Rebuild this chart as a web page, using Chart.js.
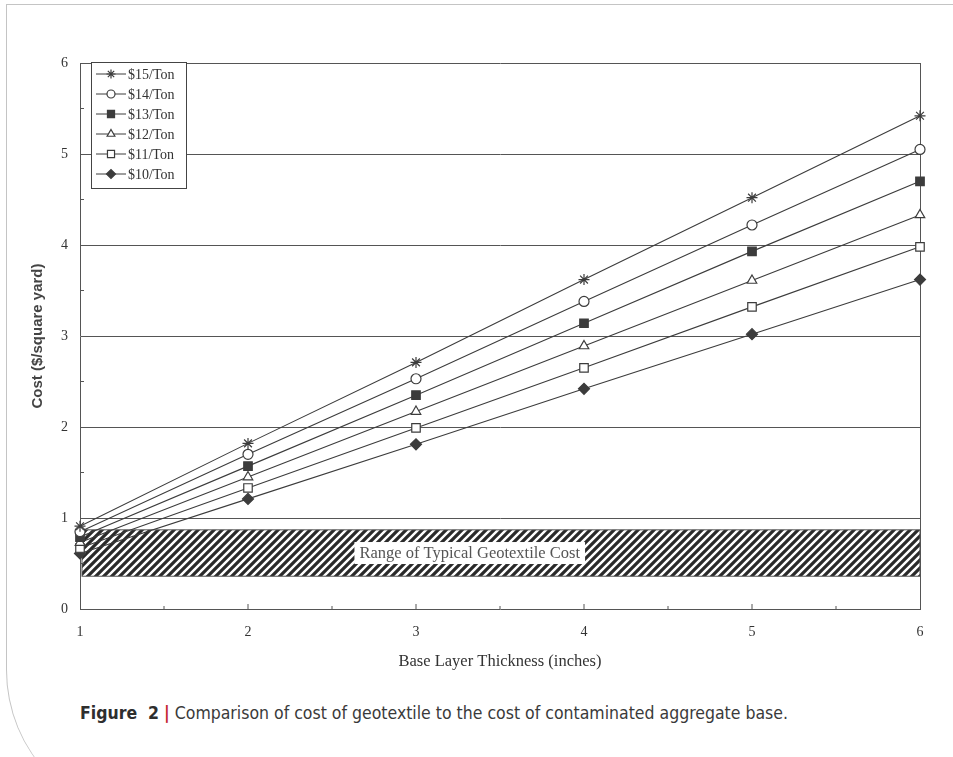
<!DOCTYPE html>
<html>
<head>
<meta charset="utf-8">
<script src="https://cdn.jsdelivr.net/npm/chart.js@4.4.1/dist/chart.umd.min.js"></script>
<style>
  html, body { margin: 0; padding: 0; background: #fff; width: 953px; height: 757px; overflow: hidden; }
  .frame { position: absolute; left: 6px; top: 4px; width: 980px; height: 815px;
           border-top: 1px solid #c4c4c4; border-left: 1px solid #c4c4c4;
           border-bottom-left-radius: 150px; }
  .wrap { position: absolute; left: 0; top: 0; width: 953px; height: 690px; }
  .caption { position: absolute; left: 80px; top: 703px; font-family: "Liberation Sans Narrow", "DejaVu Sans Condensed", sans-serif;
             font-size: 17.5px; color: #3a3a3a; white-space: nowrap; }
  .caption b { color: #2e2e2e; }
  .caption .bar { color: #c4262e; font-weight: bold; }
</style>
</head>
<body>
<div class="frame"></div>
<div class="wrap"><canvas id="costChart"></canvas></div>
<div class="caption"><b>Figure&nbsp; 2</b> <span class="bar">|</span> Comparison of cost of geotextile to the cost of contaminated aggregate base.</div>
<script>
const thickness = [1, 2, 3, 4, 5, 6];
const seriesLabels = ['$15/Ton', '$14/Ton', '$13/Ton', '$12/Ton', '$11/Ton', '$10/Ton'];
const cost15 = [0.91, 1.82, 2.71, 3.62, 4.52, 5.42];
const cost14 = [0.85, 1.70, 2.53, 3.38, 4.22, 5.05];
const cost13 = [0.79, 1.57, 2.35, 3.14, 3.93, 4.70];
const cost12 = [0.73, 1.45, 2.17, 2.89, 3.61, 4.33];
const cost11 = [0.67, 1.33, 1.99, 2.65, 3.32, 3.98];
const cost10 = [0.61, 1.21, 1.81, 2.42, 3.02, 3.62];
const geotextileRange = [0.36, 0.87];
const bandLabel = 'Range of Typical Geotextile Cost';

const ink = '#3c3c3c';
const markers = [
  { style: 'star', fill: ink, r: 5.5 },
  { style: 'circle', fill: '#fff', r: 5 },
  { style: 'rect', fill: ink, r: 6 },
  { style: 'triangle', fill: '#fff', r: 5.5 },
  { style: 'rect', fill: '#fff', r: 6 },
  { style: 'rectRot', fill: ink, r: 5.5 }
];
const allCosts = [cost15, cost14, cost13, cost12, cost11, cost10];

const datasets = allCosts.map((vals, i) => ({
  label: seriesLabels[i],
  data: vals.map((v, j) => ({ x: thickness[j], y: v })),
  borderColor: ink,
  borderWidth: 1.1,
  pointStyle: markers[i].style,
  pointRadius: markers[i].r,
  pointBackgroundColor: markers[i].fill,
  pointBorderColor: ink,
  pointBorderWidth: 1.2,
  clip: false,
  tension: 0
}));

function stripes() {
  const c = document.createElement('canvas');
  c.width = 8; c.height = 8;
  const g = c.getContext('2d');
  g.fillStyle = '#fff';
  g.fillRect(0, 0, 8, 8);
  g.strokeStyle = '#2a2a2a';
  g.lineWidth = 3.2;
  g.beginPath();
  g.moveTo(-2, 10); g.lineTo(10, -2);
  g.moveTo(-2, 2); g.lineTo(2, -2);
  g.moveTo(6, 10); g.lineTo(10, 6);
  g.stroke();
  return c;
}

const bandPlugin = {
  id: 'band',
  beforeDatasetsDraw(chart) {
    const { ctx, scales: { x, y } } = chart;
    const left = x.getPixelForValue(thickness[0]) + 2;
    const right = x.getPixelForValue(thickness[thickness.length - 1]);
    const top = y.getPixelForValue(geotextileRange[1]);
    const bottom = y.getPixelForValue(geotextileRange[0]);
    ctx.save();
    ctx.fillStyle = ctx.createPattern(stripes(), 'repeat');
    ctx.fillRect(left, top, right - left, bottom - top);
    ctx.strokeStyle = '#555';
    ctx.lineWidth = 1;
    ctx.strokeRect(left, top, right - left, bottom - top);
    ctx.font = '16.5px "Liberation Serif", serif';
    const w = ctx.measureText(bandLabel).width;
    const cx = x.getPixelForValue(3.32);
    const cy = (top + bottom) / 2;
    ctx.fillStyle = '#fff';
    ctx.fillRect(cx - w / 2 - 5, cy - 11, w + 10, 22);
    ctx.fillStyle = '#555';
    ctx.textAlign = 'center';
    ctx.textBaseline = 'middle';
    ctx.fillText(bandLabel, cx, cy + 1);
    ctx.restore();
  }
};

const minorTicks = {
  id: 'minorTicks',
  afterDraw(chart) {
    const { ctx, scales: { x, y } } = chart;
    ctx.save();
    ctx.strokeStyle = '#555';
    ctx.lineWidth = 1;
    ctx.beginPath();
    for (let v = 0.5; v < 6; v += 1) {
      const py = y.getPixelForValue(v);
      ctx.moveTo(x.left, py); ctx.lineTo(x.left + 4, py);
    }
    for (let v = 1.5; v < 6; v += 0.5) {
      const px = x.getPixelForValue(v);
      ctx.moveTo(px, y.bottom); ctx.lineTo(px, y.bottom - (v % 1 === 0 ? 5 : 3));
    }
    ctx.stroke();
    ctx.restore();
  }
};

const legendBox = {
  id: 'legendBox',
  afterDraw(chart) {
    const { ctx } = chart;
    const bx = 91, by = 62, bw = 95, bh = 126;
    ctx.save();
    ctx.fillStyle = '#fff';
    ctx.fillRect(bx, by, bw, bh);
    ctx.strokeStyle = '#444';
    ctx.lineWidth = 1;
    ctx.strokeRect(bx + 0.5, by + 0.5, bw, bh);
    ctx.font = '14px "Liberation Serif", serif';
    ctx.textBaseline = 'middle';
    chart.data.datasets.forEach((ds, i) => {
      const yy = by + 12 + i * 20;
      ctx.strokeStyle = ink;
      ctx.beginPath();
      ctx.moveTo(bx + 5, yy); ctx.lineTo(bx + 35, yy);
      ctx.stroke();
      ctx.fillStyle = ds.pointBackgroundColor;
      ctx.lineWidth = 1.2;
      Chart.helpers.drawPoint(ctx, { pointStyle: ds.pointStyle, radius: ds.pointRadius - 1, borderWidth: 1.2, rotation: 0 }, bx + 20, yy);
      ctx.lineWidth = 1;
      ctx.fillStyle = '#333';
      ctx.fillText(ds.label, bx + 37, yy + 1);
    });
    ctx.restore();
  }
};

new Chart(document.getElementById('costChart').getContext('2d'), {
  type: 'line',
  data: { datasets },
  plugins: [bandPlugin, minorTicks, legendBox],
  options: {
    responsive: true,
    maintainAspectRatio: false,
    animation: false,
    layout: { padding: { top: 63, right: 33, bottom: 0, left: 0 } },
    plugins: { legend: { display: false }, tooltip: { enabled: false } },
    scales: {
      x: {
        type: 'linear', min: 1, max: 6,
        afterFit(scale) { scale.height = 81; },
        ticks: { stepSize: 1, padding: 15, color: '#333', font: { family: '"Liberation Serif", serif', size: 14 } },
        grid: {
          drawTicks: false,
          color: ctx => ctx.tick && ctx.tick.value === 6 ? '#555' : 'rgba(0,0,0,0)'
        },
        border: { color: '#555', width: 1 },
        title: { display: true, text: 'Base Layer Thickness (inches)', color: '#333',
                 font: { family: '"Liberation Serif", serif', size: 16.5 }, padding: { bottom: 18 } }
      },
      y: {
        min: 0, max: 6,
        afterFit(scale) { scale.width = 80; },
        ticks: { stepSize: 1, padding: 12, color: '#333', font: { family: '"Liberation Serif", serif', size: 14 } },
        grid: { drawTicks: false, color: ctx => ctx.tick && ctx.tick.value === 0 ? 'rgba(0,0,0,0)' : '#555' },
        border: { color: '#555', width: 1 },
        title: { display: true, text: 'Cost ($/square yard)', color: '#444',
                 font: { family: '"Liberation Sans", Arial, sans-serif', size: 15, weight: 'bold' }, padding: { top: 29 } }
      }
    }
  }
});
</script>
</body>
</html>
